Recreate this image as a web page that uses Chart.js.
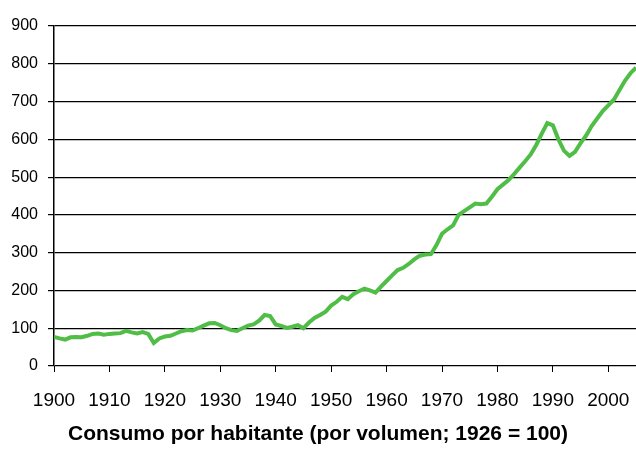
<!DOCTYPE html>
<html>
<head>
<meta charset="utf-8">
<script src="https://cdn.jsdelivr.net/npm/chart.js@4"></script>
<style>
  html, body { margin: 0; padding: 0; background: #fff; }
  canvas { display: block; }
</style>
</head>
<body>
<canvas id="consumo" width="636" height="449"></canvas>
<script>
// --- Data ---
const years = [];
for (let y = 1900; y <= 2005; y++) years.push(y);

const consumo = [
  77, 73, 70, 76, 77, 76, 80, 85, 86, 83,        // 1900s
  85, 86, 87, 93, 89, 86, 90, 85, 61, 73,        // 1910s
  78, 80, 86, 92, 95, 94, 100, 107, 113, 114,    // 1920s
  108, 100, 95, 93, 100, 107, 110, 120, 135, 132, // 1930s
  110, 106, 101, 104, 108, 100, 115, 127, 135, 144, // 1940s
  160, 170, 183, 177, 190, 198, 205, 200, 194, 210, // 1950s
  225, 240, 254, 260, 270, 282, 292, 295, 296, 320, // 1960s
  350, 362, 372, 400, 410, 420, 430, 428, 430, 448, // 1970s
  468, 480, 492, 508, 525, 542, 560, 585, 615, 643, // 1980s
  637, 600, 570, 556, 567, 590, 610, 635, 655, 675, // 1990s
  690, 705, 730, 755, 775, 790                      // 2000s
];

const yTicks = [0, 100, 200, 300, 400, 500, 600, 700, 800, 900];
const titleText = 'Consumo por habitante (por volumen; 1926 = 100)';

// --- Chart ---
const points = years.map((yr, i) => ({ x: yr, y: consumo[i] }));

new Chart(document.getElementById('consumo'), {
  type: 'line',
  data: {
    datasets: [{
      data: points,
      borderColor: '#50BE46',
      borderWidth: 4,
      pointRadius: 0,
      tension: 0,
      fill: false
    }]
  },
  options: {
    responsive: false,
    animation: false,
    layout: { padding: { top: 26, right: 0, left: 0, bottom: 0 } },
    plugins: {
      legend: { display: false },
      tooltip: { enabled: false },
      title: {
        display: true,
        position: 'bottom',
        text: titleText,
        color: '#000',
        font: { family: 'Arial', size: 21, weight: 'bold' },
        padding: { top: 0, bottom: 2 }
      }
    },
    scales: {
      x: {
        type: 'linear',
        min: 1900,
        max: 2005,
        border: { display: false },
        grid: { drawOnChartArea: false, drawTicks: true, tickLength: 6, color: '#000' },
        ticks: {
          stepSize: 10,
          includeBounds: false,
          autoSkip: false,
          maxRotation: 0,
          padding: 17,
          color: '#000',
          font: { family: 'Arial', size: 19 },
          callback: v => String(v)
        },
        afterFit: s => {
          s.height = 449 - 366 - 27.2;
          s.paddingLeft = 0;
          s.paddingRight = 0;
        }
      },
      y: {
        min: 0,
        max: 900,
        border: { display: true, color: '#000', width: 1.5 },
        grid: { color: '#000', lineWidth: 1.2, tickLength: 6 },
        afterBuildTicks: s => { s.ticks = yTicks.map(v => ({ value: v })); },
        ticks: {
          padding: 10,
          color: '#000',
          font: { family: 'Arial', size: 16 }
        },
        afterFit: s => { s.width = 54; }
      }
    }
  }
});
</script>
</body>
</html>
